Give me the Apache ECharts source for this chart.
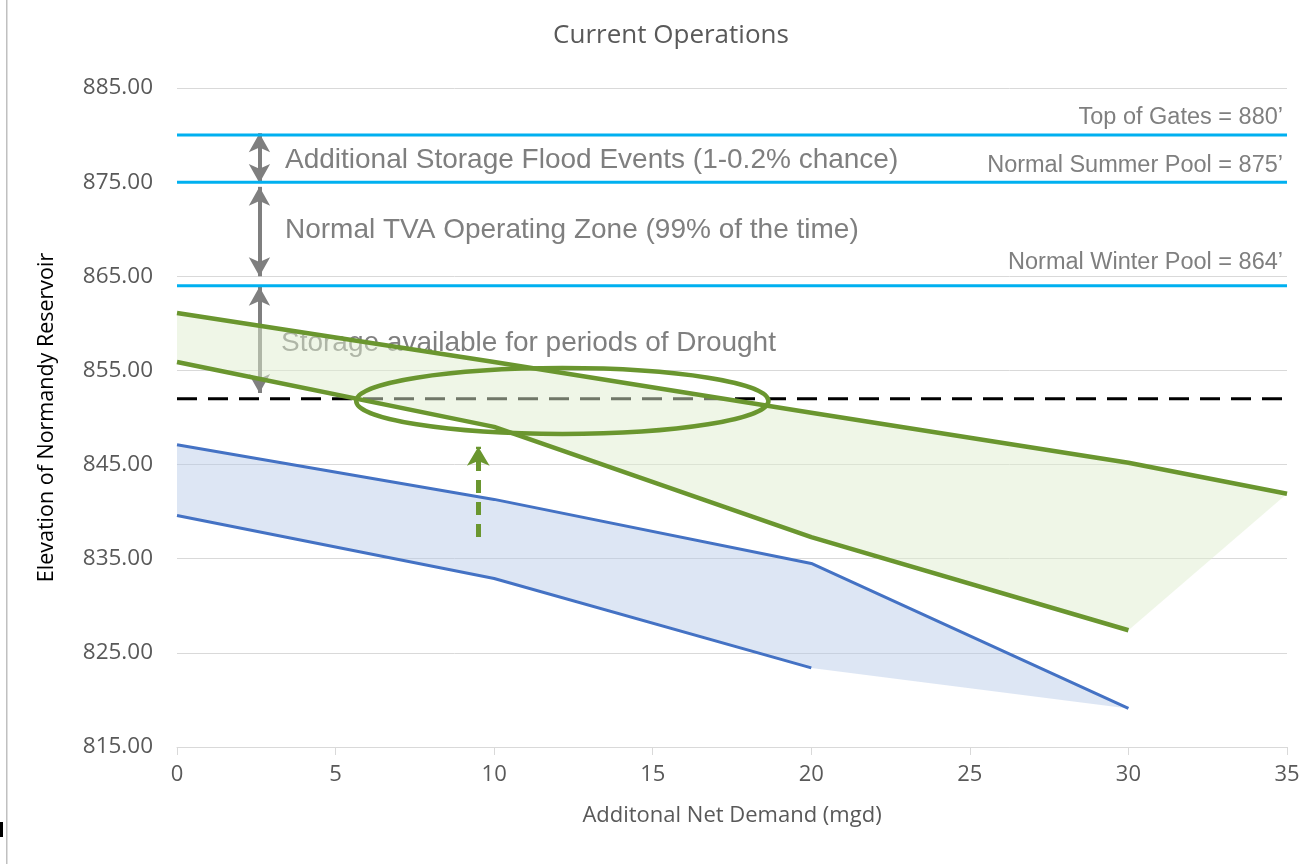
<!DOCTYPE html>
<html>
<head>
<meta charset="utf-8">
<script src="https://cdn.jsdelivr.net/npm/echarts@6/dist/echarts.min.js"></script>
<style>
html,body{margin:0;padding:0;background:#fff;}
#chart{width:1312px;height:864px;}
</style>
</head>
<body>
<div id="chart"></div>
<script>
// ---- data ----
const xTicks = [0, 5, 10, 15, 20, 25, 30, 35];
const yTicks = [815, 825, 835, 845, 855, 865, 875, 885];

const blueUpperX = [0, 10, 20, 30];
const blueUpperY = [847.1, 841.3, 834.5, 819.1];
const blueLowerX = [0, 10, 20];
const blueLowerY = [839.6, 832.9, 823.4];

const greenUpperX = [0, 10, 20, 30, 35];
const greenUpperY = [861.1, 855.9, 850.5, 845.2, 841.9];
const greenLowerX = [0, 10, 20, 30];
const greenLowerY = [855.9, 849.0, 837.3, 827.4];

const poolLevels = [880, 875, 864];
const poolLabels = ['Top of Gates = 880\u2019', 'Normal Summer Pool = 875\u2019', 'Normal Winter Pool = 864\u2019'];
const droughtLevel = 852;

// grey double arrows: [x, yTop, yBottom]
const greyArrows = [[2.6, 880.2, 874.9], [2.6, 874.5, 865.0], [2.6, 863.9, 852.6]];
// green dashed arrow: [x, yFrom, yTo]
const greenArrow = [9.5, 837.3, 846.9];
// ellipse: [centerX, centerY, halfWidth, halfHeight]
const ellipse = [12.15, 851.75, 6.5, 3.5];

const zoneTexts = ['Additional Storage Flood Events (1-0.2% chance)', 'Normal TVA Operating Zone (99% of the time)', 'Storage available for periods of Drought'];

// ---- helpers ----
function pairs(xs, ys) { return xs.map((x, i) => [x, ys[i]]); }
const blueUpper = pairs(blueUpperX, blueUpperY);
const blueLower = pairs(blueLowerX, blueLowerY);
const greenUpper = pairs(greenUpperX, greenUpperY);
const greenLower = pairs(greenLowerX, greenLowerY);
const bluePoly = blueUpper.concat(blueLower.slice().reverse());
const greenPoly = greenUpper.concat(greenLower.slice().reverse());

function polySeries(pts, fill, z) {
  return {
    type: 'custom', coordinateSystem: 'cartesian2d', silent: true, z: z,
    data: [pts[0]],
    renderItem: function (params, api) {
      return { type: 'polygon', shape: { points: pts.map(p => api.coord(p)) }, style: { fill: fill, stroke: 'none' } };
    }
  };
}
function lineSeries(pts, color, width, z, dash) {
  return {
    type: 'line', data: pts, showSymbol: false, silent: true, z: z,
    lineStyle: { color: color, width: width, type: dash || 'solid', cap: 'butt', join: 'round' }
  };
}

const GREEN = '#6A962F';
const BLUE = '#4472C4';
const POOL = '#00B0F0';
const FONT = 'Open Sans';
const ANN = 'Liberation Sans';

const series = [];
// gridlines
series.push({
  type: 'line', data: [], z: 0, silent: true,
  markLine: { z: 0, silent: true, symbol: ['none', 'none'], label: { show: false }, animation: false,
    lineStyle: { color: '#d9d9d9', width: 1, type: 'solid' },
    data: yTicks.map(v => ({ yAxis: v })) }
});
series.push(polySeries(bluePoly, 'rgba(180,199,231,0.45)', 1));
series.push(lineSeries(blueUpper, BLUE, 3, 3));
series.push(lineSeries(blueLower, BLUE, 3, 3));
// drought dashed line
series.push(lineSeries([[0, droughtLevel], [35, droughtLevel]], '#000', 3, 3, [20, 11]));
// grey arrows
series.push({
  type: 'line', data: [], z: 3, silent: true,
  markLine: { z: 3, silent: true, symbol: ['arrow', 'arrow'], symbolSize: [16, 19], label: { show: false }, animation: false,
    lineStyle: { color: '#7f7f7f', width: 4, type: 'solid' },
    data: greyArrows.map(a => [{ coord: [a[0], a[1]] }, { coord: [a[0], a[2]] }]) }
});
// pool level lines
poolLevels.forEach(v => series.push(lineSeries([[0, v], [35, v]], POOL, 3, 4)));
// green band
series.push(polySeries(greenPoly, 'rgba(223,237,207,0.5)', 5));
series.push(lineSeries(greenUpper, GREEN, 4.5, 6));
series.push(lineSeries(greenLower, GREEN, 4.5, 6));
// ellipse
series.push({
  type: 'custom', coordinateSystem: 'cartesian2d', silent: true, z: 7,
  data: [[ellipse[0], ellipse[1]]],
  renderItem: function (params, api) {
    const c = api.coord([ellipse[0], ellipse[1]]);
    const e = api.coord([ellipse[0] + ellipse[2], ellipse[1] + ellipse[3]]);
    return { type: 'ellipse', shape: { cx: c[0], cy: c[1], rx: Math.abs(e[0] - c[0]), ry: Math.abs(e[1] - c[1]) },
      style: { fill: 'none', stroke: GREEN, lineWidth: 4.5 } };
  }
});
// green dashed arrow
series.push({
  type: 'line', data: [], z: 7, silent: true,
  markLine: { z: 7, silent: true, symbol: ['none', 'arrow'], symbolSize: [17, 19], label: { show: false }, animation: false,
    lineStyle: { color: GREEN, width: 5, type: [13, 9] },
    data: [[{ coord: [greenArrow[0], greenArrow[1]] }, { coord: [greenArrow[0], greenArrow[2]] }]] }
});

const chart = echarts.init(document.getElementById('chart'), null, { renderer: 'canvas' });
chart.setOption({
  animation: false,
  backgroundColor: '#fff',
  title: { text: 'Current Operations', left: 666, top: 18, textAlign: 'center',
    textStyle: { fontFamily: FONT, fontSize: 26, fontWeight: 'normal', color: '#595959' } },
  grid: { left: 177, right: 25, top: 88, bottom: 117, containLabel: false },
  xAxis: {
    type: 'value', min: 0, max: 35, interval: 5,
    name: 'Additonal Net Demand (mgd)', nameLocation: 'middle', nameGap: 58,
    nameTextStyle: { fontFamily: FONT, fontSize: 22, color: '#595959' },
    axisLine: { show: true, lineStyle: { color: '#d9d9d9', width: 1 } },
    axisTick: { show: true, length: 8, lineStyle: { color: '#d9d9d9' } },
    axisLabel: { margin: 17, fontFamily: FONT, fontSize: 22, color: '#595959',
      formatter: v => xTicks.includes(v) ? String(v) : '' },
    splitLine: { show: false }
  },
  yAxis: {
    type: 'value', min: 815, max: 885, interval: 5,
    name: 'Elevation of Normandy Reservoir', nameLocation: 'middle', nameGap: 119, nameRotate: 90,
    nameTextStyle: { fontFamily: FONT, fontSize: 21.5, color: '#000' },
    axisLine: { show: false }, axisTick: { show: false },
    axisLabel: { margin: 24, fontFamily: FONT, fontSize: 22.5, color: '#595959',
      formatter: v => yTicks.includes(v) ? v.toFixed(2) : '' },
    splitLine: { show: false }
  },
  graphic: [
    { type: 'rect', z: 0, shape: { x: 6, y: 0, width: 1.5, height: 864 }, style: { fill: '#c0c0c0' } },
    { type: 'rect', z: 0, shape: { x: 0, y: 822, width: 3, height: 15 }, style: { fill: '#000' } },
    { type: 'text', z: 1, x: 285, y: 160, style: { text: zoneTexts[0], fill: '#7f7f7f', font: '28px "' + ANN + '"', textVerticalAlign: 'middle' } },
    { type: 'text', z: 1, x: 285, y: 230, style: { text: zoneTexts[1], fill: '#7f7f7f', font: '28px "' + ANN + '"', textVerticalAlign: 'middle' } },
    { type: 'text', z: 1, x: 281, y: 343, style: { text: zoneTexts[2], fill: '#7f7f7f', font: '28px "' + ANN + '"', textVerticalAlign: 'middle' } },
    { type: 'text', z: 1, x: 1283, y: 118, style: { text: poolLabels[0], fill: '#7f7f7f', font: '23.5px "' + ANN + '"', textAlign: 'right', textVerticalAlign: 'middle' } },
    { type: 'text', z: 1, x: 1283, y: 166, style: { text: poolLabels[1], fill: '#7f7f7f', font: '23.5px "' + ANN + '"', textAlign: 'right', textVerticalAlign: 'middle' } },
    { type: 'text', z: 1, x: 1283, y: 263, style: { text: poolLabels[2], fill: '#7f7f7f', font: '23.5px "' + ANN + '"', textAlign: 'right', textVerticalAlign: 'middle' } }
  ],
  series: series
});
</script>
</body>
</html>
